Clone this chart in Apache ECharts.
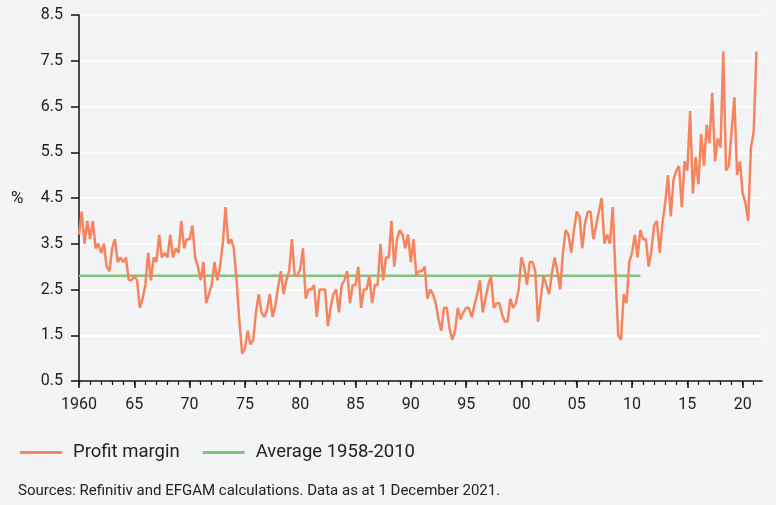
<!DOCTYPE html>
<html><head><meta charset="utf-8">
<script src="https://cdn.jsdelivr.net/npm/echarts@6/dist/echarts.min.js"></script>
<style>html,body{margin:0;padding:0;background:#f3f4f6;}#c{width:776px;height:505px;}</style>
</head><body><div id="c"></div>
<script>
// Quarterly profit margin (%), starting 1960 Q1
const startYear = 1960;
const profitMargin = [
  3.7, 4.2, 3.5, 4.0,   3.6, 4.0, 3.4, 3.5,   3.3, 3.5, 3.0, 2.9,   3.4, 3.6, 3.1, 3.2,
  3.1, 3.2, 2.7, 2.7,   2.8, 2.7, 2.1, 2.3,   2.6, 3.3, 2.7, 3.2,   3.1, 3.7, 3.2, 3.3,
  3.2, 3.7, 3.2, 3.4,   3.3, 4.0, 3.4, 3.6,   3.6, 3.9, 3.2, 3.0,   2.7, 3.1, 2.2, 2.4,
  2.6, 3.1, 2.7, 3.0,   3.5, 4.3, 3.5, 3.6,   3.4, 2.7, 1.8, 1.1,   1.2, 1.6, 1.3, 1.4,
  2.0, 2.4, 2.0, 1.9,   2.05, 2.4, 1.9, 2.15, 2.55, 2.9, 2.4, 2.7,  2.9, 3.6, 2.8, 2.8,
  2.95, 3.4, 2.3, 2.5,  2.5, 2.6, 1.9, 2.5,   2.5, 2.5, 1.7, 2.1,   2.4, 2.5, 2.0, 2.6,
  2.7, 2.9, 2.2, 2.6,   2.6, 3.0, 2.1, 2.5,   2.5, 2.8, 2.2, 2.6,   2.6, 3.5, 2.7, 3.2,
  3.2, 4.0, 3.0, 3.6,   3.8, 3.7, 3.4, 3.7,   3.1, 3.6, 2.8, 2.9,   2.9, 3.0, 2.3, 2.5,
  2.4, 2.2, 1.85, 1.6,  2.1, 2.1, 1.65, 1.4,  1.6, 2.1, 1.85, 2.0,  2.1, 2.1, 1.9, 2.15,
  2.4, 2.7, 2.0, 2.3,   2.6, 2.8, 2.1, 2.2,   2.2, 1.95, 1.8, 1.8,  2.3, 2.1, 2.2, 2.5,
  3.2, 3.0, 2.6, 3.1,   3.1, 2.9, 1.8, 2.3,   2.8, 2.6, 2.4, 2.85,  3.2, 2.9, 2.5, 3.3,
  3.8, 3.7, 3.3, 3.8,   4.2, 4.1, 3.4, 3.95,  4.2, 4.2, 3.6, 3.9,   4.2, 4.5, 3.5, 3.7,
  3.5, 4.3, 2.85, 1.5,  1.4, 2.4, 2.2, 3.1,   3.3, 3.7, 3.2, 3.8,   3.6, 3.6, 3.0, 3.35,
  3.9, 4.0, 3.3, 3.95,  4.4, 5.0, 4.1, 4.9,   5.1, 5.2, 4.3, 5.3,   5.1, 6.4, 4.6, 5.4,
  4.8, 5.9, 5.2, 6.1,   5.7, 6.8, 5.3, 5.8,   5.6, 7.7, 5.1, 5.2,   5.95, 6.7, 5.0, 5.3,
  4.6, 4.4, 4.0, 5.6,   5.95, 7.7
];
const avgValue = 2.8;
const avgRange = [1960, 2010.75];
const majorYears = [1960, 1965, 1970, 1975, 1980, 1985, 1990, 1995, 2000, 2005, 2010, 2015, 2020];
const minorYears = [];
for (let y = 1960; y <= 2021; y++) minorYears.push(y);
const yMin = 0.5, yMax = 8.5, yStep = 1;
const xMin = 1960, xMax = 2021.75;
const seriesNames = ['Profit margin', 'Average 1958-2010'];
const unitLabel = '%';
const sourceText = 'Sources: Refinitiv and EFGAM calculations. Data as at 1 December 2021.';

const profitData = profitMargin.map((v, i) => [startYear + i / 4, v]);
const avgData = avgRange.map(x => [x, avgValue]);

const FONT = "Roboto, 'Noto Sans', sans-serif";
const TXT = '#222';
const chart = echarts.init(document.getElementById('c'));
chart.setOption({
  backgroundColor: '#f3f4f6',
  animation: false,
  textStyle: { fontFamily: FONT },
  grid: { left: 79, right: 14, top: 15, bottom: 124, containLabel: false },
  legend: {
    left: 20, top: 443, padding: 0,
    itemWidth: 42, itemHeight: 3, itemGap: 23,
    icon: 'rect',
    textStyle: { fontSize: 18.5, color: TXT, fontFamily: FONT, padding: [0, 0, 0, 6] },
    data: seriesNames
  },
  xAxis: [{
    type: 'value', min: xMin, max: xMax,
    axisLine: { show: true, lineStyle: { color: '#111', width: 1.5 } },
    axisTick: { show: true, length: 7, customValues: majorYears, lineStyle: { color: '#111', width: 1.5 } },
    axisLabel: {
      customValues: majorYears, margin: 16, fontSize: 16, color: TXT, fontFamily: FONT,
      formatter: v => v === 1960 ? '1960' : String(v % 100).padStart(2, '0')
    },
    splitLine: { show: false }
  }, {
    type: 'value', min: xMin, max: xMax, position: 'bottom',
    axisLine: { show: false },
    axisTick: { show: true, length: 4, customValues: minorYears, lineStyle: { color: '#111', width: 1.2 } },
    axisLabel: { show: false },
    splitLine: { show: false }
  }],
  yAxis: {
    type: 'value', min: yMin, max: yMax, interval: yStep,
    axisLine: { show: true, lineStyle: { color: '#111', width: 1.5 } },
    axisTick: { show: true, length: 8, lineStyle: { color: '#111', width: 1.5 } },
    axisLabel: { margin: 16, fontSize: 16, color: TXT, fontFamily: FONT, padding: [6, 0, 0, 0], formatter: v => v.toFixed(1) },
    splitLine: { show: true, lineStyle: { color: '#ffffff', width: 1.5 } }
  },
  series: [{
    name: seriesNames[0], type: 'line', data: profitData, showSymbol: false,
    lineStyle: { color: '#f5845f', width: 2.5 }, itemStyle: { color: '#f5845f' }, z: 3
  }, {
    name: seriesNames[1], type: 'line', data: avgData, showSymbol: false,
    lineStyle: { color: '#82c27c', width: 2.5 }, itemStyle: { color: '#82c27c' }, z: 2
  }],
  graphic: [{
    type: 'text', left: 11, top: 190,
    style: { text: unitLabel, fontSize: 17, fill: TXT, fontFamily: FONT }
  }, {
    type: 'text', left: 18, top: 484,
    style: { text: sourceText, fontSize: 15, fill: TXT, fontFamily: FONT }
  }]
});
</script>
</body></html>
